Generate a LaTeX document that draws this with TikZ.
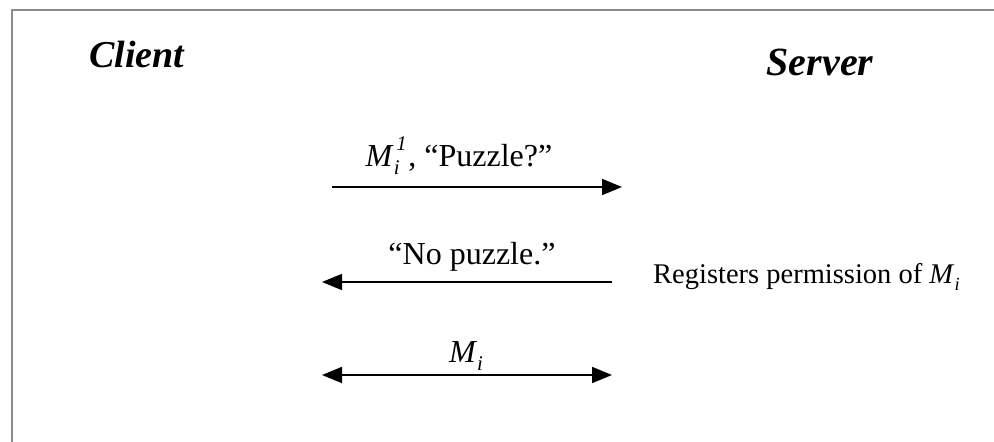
\documentclass[tikz,border=0pt]{standalone}
\usepackage{fontspec}
\setmainfont{Liberation Serif}
\usetikzlibrary{arrows.meta}
\newcommand{\msgM}{\textit{M}}
\newcommand{\msgSub}[1]{\raisebox{-0.28em}{\scalebox{0.65}{\itshape #1}}}
\newcommand{\msgSup}[1]{\raisebox{0.5em}{\scalebox{0.65}{\itshape #1}}}
\tikzset{
  frameline/.style={draw=gray!90, line width=2.2pt},
  msg/.style={line width=1.8pt, -{Triangle[length=20pt,width=16pt]}},
  msgboth/.style={line width=1.8pt, {Triangle[length=20pt,width=16pt]}-{Triangle[length=20pt,width=16pt]}},
  party/.style={anchor=base, inner sep=0pt, font=\fontsize{38}{44}\selectfont\bfseries\itshape},
  lbl/.style={anchor=base, inner sep=0pt, font=\fontsize{32}{38}\selectfont},
  note/.style={anchor=base west, inner sep=0pt, font=\fontsize{28.5}{34}\selectfont}
}
\begin{document}
\begin{tikzpicture}[x=1pt,y=-1pt]
\useasboundingbox (0,0) rectangle (994,442);
\fill[white] (0,0) rectangle (994,442);
% frame (only top and left visible)
\coordinate (fbl) at (12,442);
\coordinate (ftl) at (12,10);
\coordinate (ftr) at (994,10);
\draw[frameline] (fbl) -- (ftl) -- (ftr);
% parties
\node[party] (client) at (137,67) {Client};
\node[party, font=\fontsize{40}{46}\selectfont\bfseries\itshape] (server) at (820,75) {Server};
% arrow 1
\coordinate (a1s) at (332,187);
\coordinate (a1e) at (622,187);
\draw[msg] (a1s) -- (a1e);
\node[lbl] (l1) at (459,166) {\msgM\rlap{\msgSub{i}}\hspace{0.08em}\msgSup{1}\hspace{0.05em}, “Puzzle?”};
% arrow 2
\coordinate (a2s) at (612,282);
\coordinate (a2e) at (322,282);
\draw[msg] (a2s) -- (a2e);
\node[lbl] (l2) at (472,264) {“No puzzle.”};
\node[note] (reg) at (653,283) {Registers permission of \msgM\msgSub{i}};
% arrow 3
\coordinate (a3s) at (322,375);
\coordinate (a3e) at (612,375);
\draw[msgboth] (a3s) -- (a3e);
\node[lbl] (l3) at (466,362) {\msgM\msgSub{i}};
\end{tikzpicture}
\end{document}
